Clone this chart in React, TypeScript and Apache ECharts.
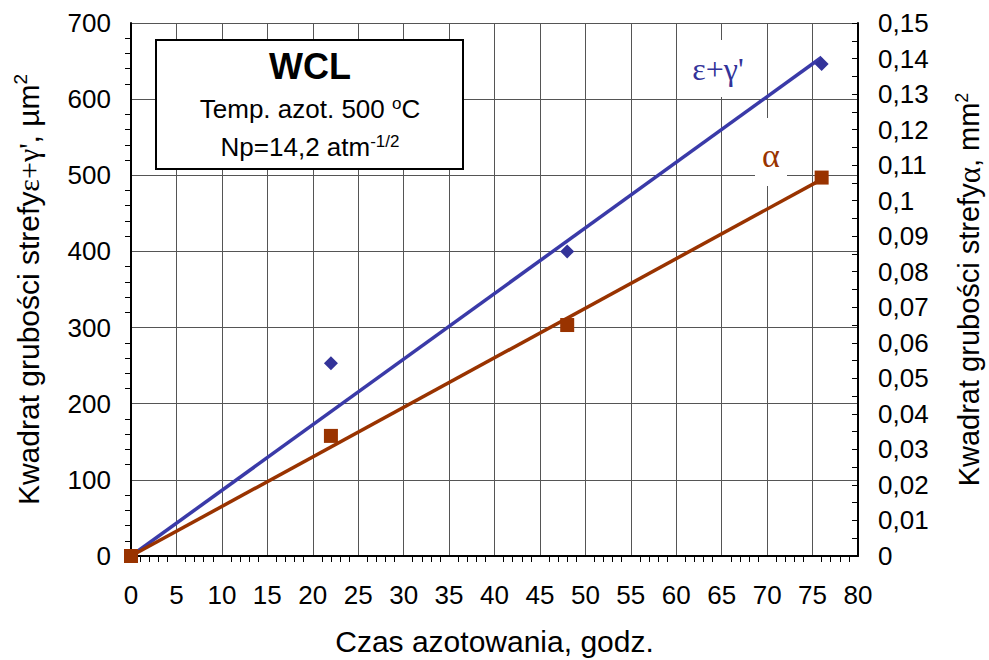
import React, { useEffect, useRef } from "react";
import * as echarts from "echarts";

const hoursEG = [0, 22, 48, 76];
const valuesEG = [0, 253, 400, 646];
const hoursA = [0, 22, 48, 76];
const valuesA = [0, 0.0338, 0.065, 0.1065];
const trendEG = [[0, 0], [76, 655]];
const trendA = [[0, 0], [76, 0.106]];

const BLUE = "#333399";
const BLUE_LINE = "#3a3aa8";
const BROWN = "#993300";
const FONT = "Liberation Sans, Arial, sans-serif";
const SERIF = "Liberation Serif, Times New Roman, serif";

export default function App() {
  const ref = useRef<HTMLDivElement>(null);
  useEffect(() => {
    const chart = echarts.init(ref.current!, null, { renderer: "svg" });
    const tickLabel = { fontFamily: FONT, fontSize: 26, color: "#000" };
    chart.setOption({
      animation: false,
      backgroundColor: "#fff",
      grid: {
        left: 131,
        right: 131,
        top: 23,
        bottom: 104,
        show: false,
        containLabel: false,
        outerBoundsMode: "none",
      },
      xAxis: {
        type: "value",
        min: 0,
        max: 80,
        interval: 5,
        name: "Czas azotowania, godz.",
        nameLocation: "middle",
        nameGap: 70,
        nameTextStyle: { fontFamily: FONT, fontSize: 30, color: "#000" },
        axisLine: { onZero: false, lineStyle: { color: "#000", width: 2 } },
        axisTick: { show: false },
        minorTick: { show: true, splitNumber: 5, length: 6, lineStyle: { color: "#000", width: 1 } },
        axisLabel: { ...tickLabel, margin: 26 },
        splitLine: { show: true, lineStyle: { color: "#555", width: 1 } },
      },
      yAxis: [
        {
          type: "value",
          min: 0,
          max: 700,
          interval: 100,
          position: "left",
          name: "Kwadrat grubości strefy{g|ε+γ'}, µm{sup|2}",
          nameLocation: "middle",
          nameRotate: 90,
          nameGap: 85,
          nameTextStyle: {
            fontFamily: FONT,
            fontSize: 30,
            color: "#000",
            rich: {
              g: { fontFamily: SERIF, fontSize: 30, color: "#000" },
              sup: { fontFamily: FONT, fontSize: 19, color: "#000", padding: [0, 0, 16, 0] },
            },
          },
          axisLine: { show: true, lineStyle: { color: "#000", width: 2 } },
          axisTick: { show: false },
          minorTick: { show: true, splitNumber: 5, length: 6, lineStyle: { color: "#000", width: 1 } },
          axisLabel: { ...tickLabel, margin: 20 },
          splitLine: { show: true, lineStyle: { color: "#555", width: 1 } },
        },
        {
          type: "value",
          min: 0,
          max: 0.15,
          interval: 0.01,
          position: "right",
          name: "Kwadrat grubości strefy{g|α}, mm{sup|2}",
          nameLocation: "middle",
          nameRotate: 90,
          nameGap: 95,
          nameTextStyle: {
            fontFamily: FONT,
            fontSize: 29,
            color: "#000",
            rich: {
              g: { fontFamily: SERIF, fontSize: 31, color: "#000" },
              sup: { fontFamily: FONT, fontSize: 18, color: "#000", padding: [0, 0, 14, 0] },
            },
          },
          axisLine: { show: true, lineStyle: { color: "#000", width: 2 } },
          axisTick: { show: true, inside: true, length: 6, lineStyle: { color: "#000" } },
          minorTick: { show: true, splitNumber: 2, length: 6, lineStyle: { color: "#000", width: 1 } },
          axisLabel: {
            ...tickLabel,
            margin: 20,
            formatter: (v: number) => String(Number(v.toFixed(2))).replace(".", ","),
          },
          splitLine: { show: false },
        },
      ],
      series: [
        {
          type: "line",
          yAxisIndex: 0,
          data: trendEG,
          showSymbol: false,
          lineStyle: { color: BLUE_LINE, width: 3.5 },
          z: 3,
        },
        {
          type: "line",
          yAxisIndex: 1,
          data: trendA,
          showSymbol: false,
          lineStyle: { color: BROWN, width: 3.5 },
          z: 3,
        },
        {
          type: "scatter",
          yAxisIndex: 0,
          data: hoursEG.map((h, i) => [h, valuesEG[i]]),
          symbol: "diamond",
          symbolSize: 14,
          itemStyle: { color: BLUE, opacity: 1 },
          z: 4,
        },
        {
          type: "scatter",
          yAxisIndex: 1,
          data: hoursA.map((h, i) => [h, valuesA[i]]),
          symbol: "rect",
          symbolSize: 14,
          itemStyle: { color: BROWN, opacity: 1 },
          z: 5,
        },
      ],
      graphic: [
        {
          type: "rect",
          shape: { x: 156, y: 40, width: 307, height: 129 },
          style: { fill: "#fff", stroke: "#000", lineWidth: 2 },
          z: 10,
        },
        {
          type: "text",
          x: 310,
          y: 66,
          style: {
            text: "WCL",
            fontFamily: FONT,
            fontWeight: "bold",
            fontSize: 36,
            fill: "#000",
            align: "center",
            verticalAlign: "middle",
          },
          z: 11,
        },
        {
          type: "text",
          x: 310,
          y: 109,
          style: {
            text: "Temp. azot. 500 {sup|o}C",
            fontFamily: FONT,
            fontSize: 26,
            fill: "#000",
            align: "center",
            verticalAlign: "middle",
            rich: { sup: { fontFamily: FONT, fontSize: 17, fill: "#000", padding: [0, 0, 12, 0] } },
          },
          z: 11,
        },
        {
          type: "text",
          x: 310,
          y: 147,
          style: {
            text: "Np=14,2 atm{sup|-1/2}",
            fontFamily: FONT,
            fontSize: 26,
            fill: "#000",
            align: "center",
            verticalAlign: "middle",
            rich: { sup: { fontFamily: FONT, fontSize: 17, fill: "#000", padding: [0, 0, 12, 0] } },
          },
          z: 11,
        },
        {
          type: "rect",
          shape: { x: 690, y: 40, width: 58, height: 57 },
          style: { fill: "#fff" },
          z: 10,
        },
        {
          type: "text",
          x: 718,
          y: 69,
          style: {
            text: "ε+γ'",
            fontFamily: SERIF,
            fontSize: 32,
            fill: BLUE,
            align: "center",
            verticalAlign: "middle",
          },
          z: 11,
        },
        {
          type: "rect",
          shape: { x: 755, y: 118, width: 32, height: 68 },
          style: { fill: "#fff" },
          z: 10,
        },
        {
          type: "text",
          x: 771,
          y: 155,
          style: {
            text: "α",
            fontFamily: SERIF,
            fontSize: 34,
            fill: BROWN,
            align: "center",
            verticalAlign: "middle",
          },
          z: 11,
        },
      ],
    });
    return () => chart.dispose();
  }, []);
  return (
    <div
      ref={ref}
      style={{ position: "absolute", left: 0, top: 0, width: 989, height: 660 }}
    />
  );
}
